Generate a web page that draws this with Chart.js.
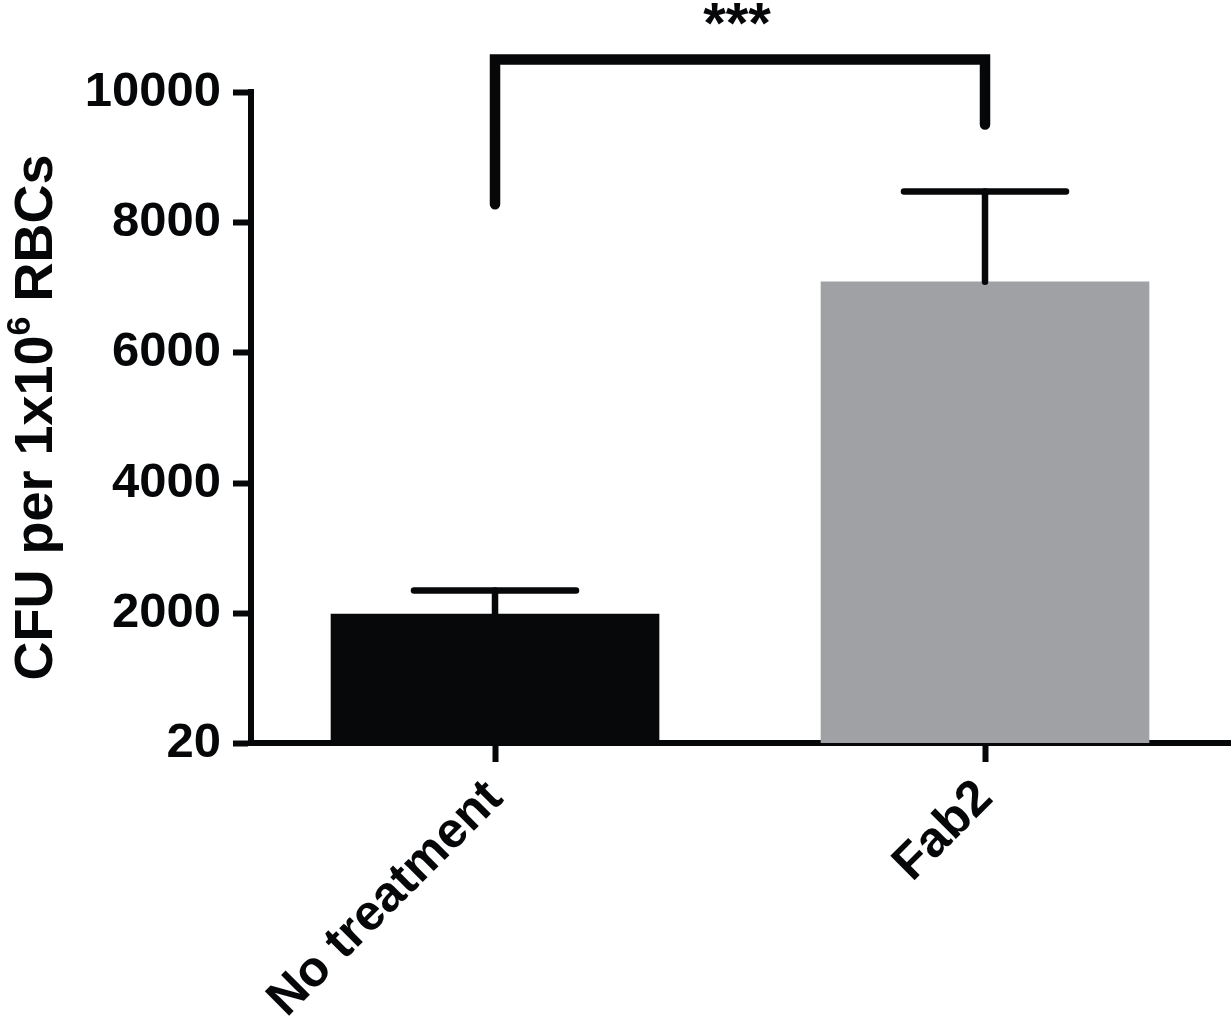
<!DOCTYPE html>
<html><head><meta charset="utf-8">
<script src="https://cdn.jsdelivr.net/npm/chart.js@4/dist/chart.umd.min.js"></script>
<style>html,body{margin:0;padding:0;background:#fff}</style>
</head><body>
<canvas id="c" width="1232" height="1024"></canvas>
<script>
// ---- data ----
const categories = ['No treatment', 'Fab2'];
const means = [1995, 7090];
const errorTops = [2357, 8473];
const barColors = ['#060809', '#a0a1a4'];
const yTickValues = [20, 2000, 4000, 6000, 8000, 10000];
const yTickLabels = ['20', '2000', '4000', '6000', '8000', '10000'];
const yTitleMain = 'CFU per 1x10';
const yTitleSup = '6';
const yTitleEnd = ' RBCs';
const sigPair = [0, 1];
const sigLegEnds = [8280, 9500];
const sigTop = 10500;
const sigText = '***';

const INK = '#050708';
const SANS = "'Liberation Sans', Arial, Helvetica, sans-serif";

const overlay = {
  id: 'overlay',
  afterDraw(chart) {
    const ctx = chart.ctx;
    const xs = chart.scales.x, ys = chart.scales.y;
    ctx.save();
    ctx.strokeStyle = INK;
    ctx.lineCap = 'round';
    // error bars
    for (let i = 0; i < means.length; i++) {
      const x = xs.getPixelForValue(i);
      const y0 = ys.getPixelForValue(means[i]);
      const y1 = ys.getPixelForValue(errorTops[i]);
      ctx.lineWidth = 6.5;
      ctx.beginPath(); ctx.moveTo(x, y0); ctx.lineTo(x, y1); ctx.stroke();
      ctx.lineWidth = 6.5;
      ctx.beginPath(); ctx.moveTo(x - 81, y1); ctx.lineTo(x + 81, y1); ctx.stroke();
    }
    // significance bracket
    const xa = xs.getPixelForValue(sigPair[0]);
    const xb = xs.getPixelForValue(sigPair[1]);
    const yt = ys.getPixelForValue(sigTop);
    ctx.lineWidth = 10.5;
    ctx.lineJoin = 'miter';
    ctx.beginPath();
    ctx.moveTo(xa, ys.getPixelForValue(sigLegEnds[0]));
    ctx.lineTo(xa, yt);
    ctx.lineTo(xb, yt);
    ctx.lineTo(xb, ys.getPixelForValue(sigLegEnds[1]));
    ctx.stroke();
    ctx.fillStyle = INK;
    ctx.font = 'bold 58px ' + SANS;
    ctx.textAlign = 'center';
    ctx.textBaseline = 'alphabetic';
    ctx.fillText(sigText, (xa + xb) / 2 - 3, yt - 16);
    // y title with superscript
    const cy = (chart.chartArea.top + chart.chartArea.bottom) / 2;
    ctx.translate(52, cy);
    ctx.rotate(-Math.PI / 2);
    const fMain = 'bold 54px ' + SANS, fSup = 'bold 34px ' + SANS;
    ctx.font = fMain; const w1 = ctx.measureText(yTitleMain).width; const w3 = ctx.measureText(yTitleEnd).width;
    ctx.font = fSup; const w2 = ctx.measureText(yTitleSup).width;
    let x0 = -(w1 + w2 + w3) / 2;
    ctx.textAlign = 'left';
    ctx.font = fMain; ctx.fillText(yTitleMain, x0, 0);
    ctx.font = fSup; ctx.fillText(yTitleSup, x0 + w1, -22);
    ctx.font = fMain; ctx.fillText(yTitleEnd, x0 + w1 + w2, 0);
    ctx.restore();
  }
};

new Chart(document.getElementById('c'), {
  type: 'bar',
  data: {
    datasets: [{
      data: means.map((v, i) => ({ x: i, y: v })),
      backgroundColor: barColors,
      borderWidth: 0,
      barThickness: 328
    }]
  },
  options: {
    responsive: false,
    devicePixelRatio: 1,
    animation: false,
    layout: { padding: { top: 92, right: 2, left: 0, bottom: 0 } },
    plugins: { legend: { display: false }, tooltip: { enabled: false } },
    scales: {
      x: {
        type: 'linear',
        offset: false,
        z: 1,
        min: -0.498,
        max: 1.5,
        afterBuildTicks: s => { s.ticks = categories.map((c, i) => ({ value: i })); },
        afterFit: s => { s.height = 281; s.paddingLeft = 0; s.paddingRight = 0; },
        grid: { display: true, offset: false, drawOnChartArea: false, drawTicks: true, tickLength: 19, tickWidth: 6, tickColor: INK },
        border: { display: true, width: 6, color: INK },
        ticks: {
          autoSkip: false, maxRotation: 45, minRotation: 45, padding: 7,
          color: INK, font: { family: SANS, weight: 'bold', size: 50 },
          callback: v => categories[Math.round(v)]
        }
      },
      y: {
        type: 'linear',
        z: 1,
        min: 20,
        max: 10000,
        afterBuildTicks: s => { s.ticks = yTickValues.map(v => ({ value: v })); },
        afterFit: s => { s.width = 251; s.paddingTop = 0; s.paddingBottom = 0; },
        grid: { display: true, drawOnChartArea: false, drawTicks: true, tickLength: 18, tickWidth: 6, tickColor: INK },
        border: { display: true, width: 6, color: INK },
        ticks: {
          padding: 12, color: INK, font: { family: SANS, weight: 'bold', size: 49 },
          callback: v => yTickLabels[yTickValues.indexOf(v)]
        }
      }
    }
  },
  plugins: [overlay]
});
</script>
</body></html>
